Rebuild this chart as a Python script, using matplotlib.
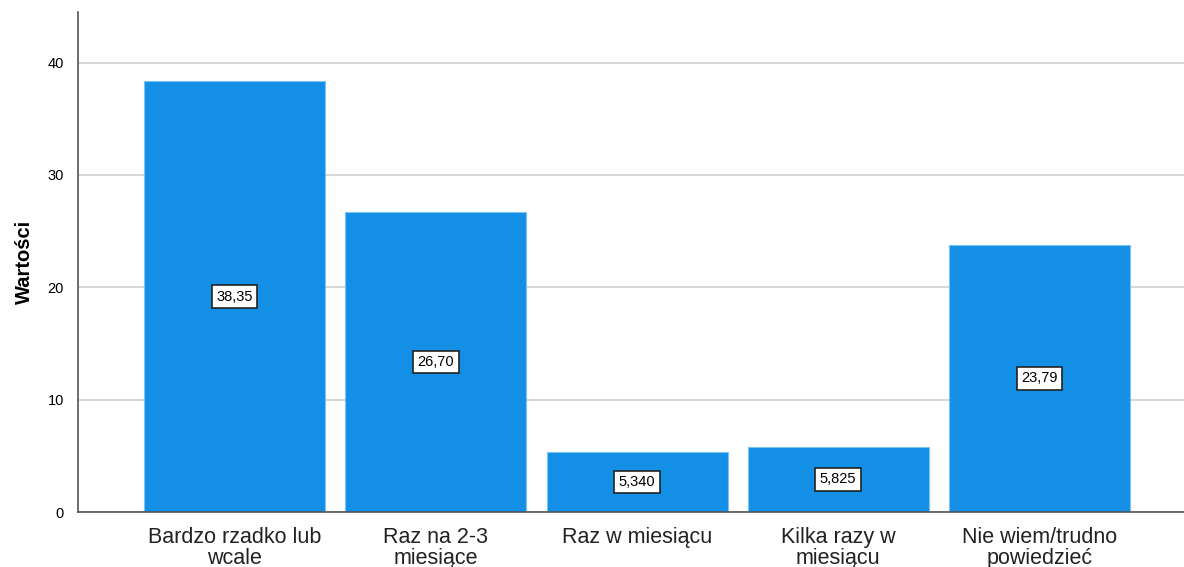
import matplotlib.pyplot as plt
import numpy as np

categories = ["Bardzo rzadko lub\nwcale", "Raz na 2-3\nmiesiące", "Raz w miesiącu",
              "Kilka razy w\nmiesiącu", "Nie wiem/trudno\npowiedzieć"]
values = [38.35, 26.70, 5.340, 5.825, 23.79]
value_labels = ["38,35", "26,70", "5,340", "5,825", "23,79"]
yticks = [0, 10, 20, 30, 40]

plt.rcParams["font.family"] = ["Liberation Sans", "DejaVu Sans"]

fig = plt.figure(figsize=(11.84, 5.67), dpi=100)
ax = fig.add_axes([78 / 1184, 55 / 567, 1 - 78 / 1184, 500 / 567])

x = np.arange(len(categories))
ax.bar(x, values, width=0.9, color="#1390E6", edgecolor="#7CC2F2", linewidth=0.8, zorder=2)
for xi, v, lab in zip(x, values, value_labels):
    ax.text(xi, v / 2, lab, ha="center", va="center", fontsize=10.5, zorder=3,
            bbox=dict(boxstyle="square,pad=0.3", fc="white", ec="#222222", lw=1.2))

ax.set_xlim(-0.78, 4.72)
ax.set_ylim(0, 44.5)
ax.set_yticks(yticks, [str(t) for t in yticks])
ax.set_xticks(x, categories)
ax.tick_params(axis="y", length=0, labelsize=10.5, pad=10)
ax.tick_params(axis="x", length=0, labelsize=15.5, pad=11, labelcolor="#222222")
for lbl in ax.get_xticklabels():
    lbl.set_linespacing(1.0)
ax.grid(axis="y", color="#D0D0D0", lw=1.2, zorder=0)
ax.set_axisbelow(True)
for s in ["top", "right"]:
    ax.spines[s].set_visible(False)
for s in ["left", "bottom"]:
    ax.spines[s].set_color("#555555")
    ax.spines[s].set_linewidth(1.2)
ax.set_ylabel("Wartości", fontsize=14.5, fontweight="bold", labelpad=10)

fig.savefig("out.png", dpi=100)
